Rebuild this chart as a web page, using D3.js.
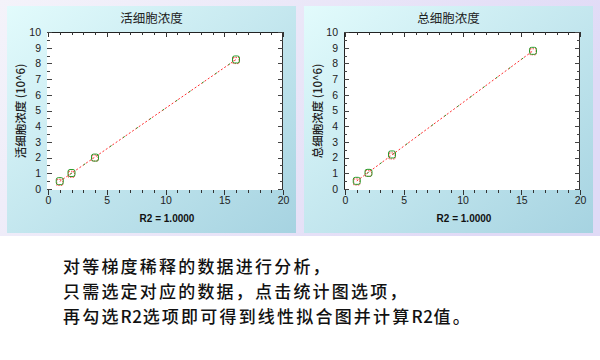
<!DOCTYPE html>
<html>
<head>
<meta charset="utf-8">
<script src="https://cdn.jsdelivr.net/npm/d3@7"></script>
<style>
html,body{margin:0;padding:0;background:#fff;}
svg{display:block;}
</style>
</head>
<body>
<svg id="c" width="600" height="360"></svg>
<script>
// ---- data ----
const dilution = [1, 2, 4, 16];
const liveConc = [0.5, 1.02, 2.0, 8.25];
const totalConc = [0.52, 1.03, 2.2, 8.8];
const panelTitles = ["活细胞浓度", "总细胞浓度"];
const yTitles = ["活细胞浓度 (10^6)", "总细胞浓度 (10^6)"];
const r2Labels = ["R2 = 1.0000", "R2 = 1.0000"];
const xTickValues = [0, 5, 10, 15, 20];
const yTickValues = [0, 1, 2, 3, 4, 5, 6, 7, 8, 9, 10];
const captionLines = [
  "对等梯度稀释的数据进行分析，",
  "只需选定对应的数据，点击统计图选项，",
  "再勾选R2选项即可得到线性拟合图并计算R2值。"
];

const svg = d3.select("#c");
const defs = svg.append("defs");

const bg = defs.append("linearGradient").attr("id", "bg").attr("x1", 0).attr("y1", 0).attr("x2", 1).attr("y2", 0.3);
bg.append("stop").attr("offset", 0).attr("stop-color", "#f4f3fa");
bg.append("stop").attr("offset", 1).attr("stop-color", "#e0daf6");

const pg = defs.append("linearGradient").attr("id", "pg").attr("x1", 0).attr("y1", 0).attr("x2", 1).attr("y2", 1);
pg.append("stop").attr("offset", 0).attr("stop-color", "#e2fbfc");
pg.append("stop").attr("offset", 1).attr("stop-color", "#a6d3e1");

svg.append("rect").attr("x", 0).attr("y", 0).attr("width", 600).attr("height", 236).attr("fill", "url(#bg)");

const panels = [
  {x0: 7, series: liveConc, leftLine: false},
  {x0: 304, series: totalConc, leftLine: true}
];

panels.forEach((p, i) => {
  const g = svg.append("g").attr("transform", `translate(${p.x0},0)`);
  const pw = 289;
  g.append("rect").attr("x", 0).attr("y", 6).attr("width", pw).attr("height", 227).attr("fill", "url(#pg)");

  const L = 40, R = 276, T = 32, B = 190;
  const x = d3.scaleLinear().domain([0, 20]).range([L + 1, R]);
  const y = d3.scaleLinear().domain([0, 10]).range([B - 1, T]);

  g.append("rect").attr("x", L).attr("y", T).attr("width", R - L).attr("height", B - T).attr("fill", "#fff");

  // frame lines
  g.append("line").attr("x1", L).attr("x2", R).attr("y1", T + 0.5).attr("y2", T + 0.5).attr("stroke", "#222");
  g.append("line").attr("x1", R - 0.5).attr("x2", R - 0.5).attr("y1", T).attr("y2", B).attr("stroke", "#333");
  if (p.leftLine) g.append("line").attr("x1", L + 0.5).attr("x2", L + 0.5).attr("y1", T).attr("y2", B).attr("stroke", "#222");

  // minor / major ticks
  const xMinor = d3.range(0, 21, 1);
  const yMinor = d3.range(0, 10.01, 0.5);
  xMinor.forEach(v => {
    const major = v % 5 === 0;
    const xx = Math.round(x(v)) + 0.5;
    g.append("line").attr("x1", xx).attr("x2", xx).attr("y1", B).attr("y2", B + (major ? 5 : 3)).attr("stroke", "#333");
    g.append("line").attr("x1", xx).attr("x2", xx).attr("y1", T).attr("y2", T + (major ? 5 : 3)).attr("stroke", "#333");
  });
  yMinor.forEach(v => {
    const major = Number.isInteger(v);
    const yy = Math.round(y(v)) + 0.5;
    g.append("line").attr("x1", L).attr("x2", L + (major ? 5 : 3)).attr("y1", yy).attr("y2", yy).attr("stroke", "#444");
    g.append("line").attr("x1", R).attr("x2", R - (major ? 5 : 3)).attr("y1", yy).attr("y2", yy).attr("stroke", "#444");
  });

  // axes labels via d3 axes (ticks hidden)
  const xAxis = d3.axisBottom(x).tickValues(xTickValues).tickSize(0).tickPadding(7);
  const yAxis = d3.axisLeft(y).tickValues(yTickValues).tickSize(0).tickPadding(6);
  const xa = g.append("g").attr("transform", `translate(0,${B})`).call(xAxis);
  const ya = g.append("g").attr("transform", `translate(${L},0)`).call(yAxis);
  [xa, ya].forEach(a => {
    a.select(".domain").remove();
    a.selectAll("text").attr("font-family", "Liberation Sans, Arial, sans-serif").attr("font-size", 10.5).attr("fill", "#222");
  });

  // fit
  const xs = dilution, ys = p.series;
  const mx = d3.mean(xs), my = d3.mean(ys);
  const slope = d3.sum(xs.map((v, k) => (v - mx) * (ys[k] - my))) / d3.sum(xs.map(v => (v - mx) ** 2));
  const icpt = my - slope * mx;
  const fx = [d3.min(xs), d3.max(xs)];
  const fitLine = d3.line().x(d => x(d)).y(d => y(icpt + slope * d));
  g.append("path").attr("d", fitLine(fx)).attr("stroke", "#ff3030").attr("stroke-width", 1).attr("stroke-dasharray", "2,2").attr("fill", "none");
  g.append("path").attr("d", fitLine(fx)).attr("stroke", "#2a9a2a").attr("stroke-width", 1).attr("stroke-dasharray", "2,14").attr("stroke-dashoffset", 3).attr("fill", "none");

  // red fitted markers
  g.selectAll(".fm").data(xs).enter().append("rect")
    .attr("x", d => x(d) - 3).attr("y", d => y(icpt + slope * d) - 2)
    .attr("width", 6).attr("height", 6)
    .attr("fill", "none").attr("stroke", "#ff4a4a").attr("stroke-width", 1).attr("stroke-dasharray", "1.5,1");
  // green data markers
  g.selectAll(".dm").data(xs).enter().append("rect")
    .attr("x", (d) => x(d) - 3.5).attr("y", (d, k) => y(ys[k]) - 3.5)
    .attr("width", 7).attr("height", 7).attr("rx", 2)
    .attr("fill", "none").attr("stroke", "#2a9a2a").attr("stroke-width", 1);

  // titles
  g.append("text").attr("x", pw / 2).attr("y", 23).attr("text-anchor", "middle")
    .attr("font-family", "Noto Sans CJK SC, sans-serif").attr("font-size", 12.5).attr("fill", "#222")
    .text(panelTitles[i]);
  g.append("text").attr("transform", `translate(${13},${(T + B) / 2}) rotate(-90)`)
    .attr("text-anchor", "middle").attr("dominant-baseline", "central")
    .attr("font-family", "Noto Sans CJK SC, sans-serif").attr("font-weight", 500).attr("font-size", 11.5).attr("fill", "#222")
    .text(yTitles[i]);
  g.append("text").attr("x", (L + R) / 2 + 2).attr("y", 222).attr("text-anchor", "middle")
    .attr("font-family", "Liberation Sans, Arial, sans-serif").attr("font-weight", "bold").attr("font-size", 10).attr("fill", "#111")
    .text(r2Labels[i]);
});

// caption
const cap = svg.append("g");
captionLines.forEach((t, k) => {
  const txt = cap.append("text").attr("x", 63).attr("y", 273 + k * 25)
    .attr("font-family", "Noto Sans CJK SC, sans-serif").attr("font-size", 17).attr("font-weight", 500)
    .attr("fill", "#111");
  const parts = t.match(/[A-Za-z0-9]+|[^A-Za-z0-9]+/g);
  parts.forEach(s => {
    const ascii = /^[A-Za-z0-9]+$/.test(s);
    txt.append("tspan").attr("letter-spacing", ascii ? 0.6 : 2.2).text(s);
  });
});
</script>
</body>
</html>
